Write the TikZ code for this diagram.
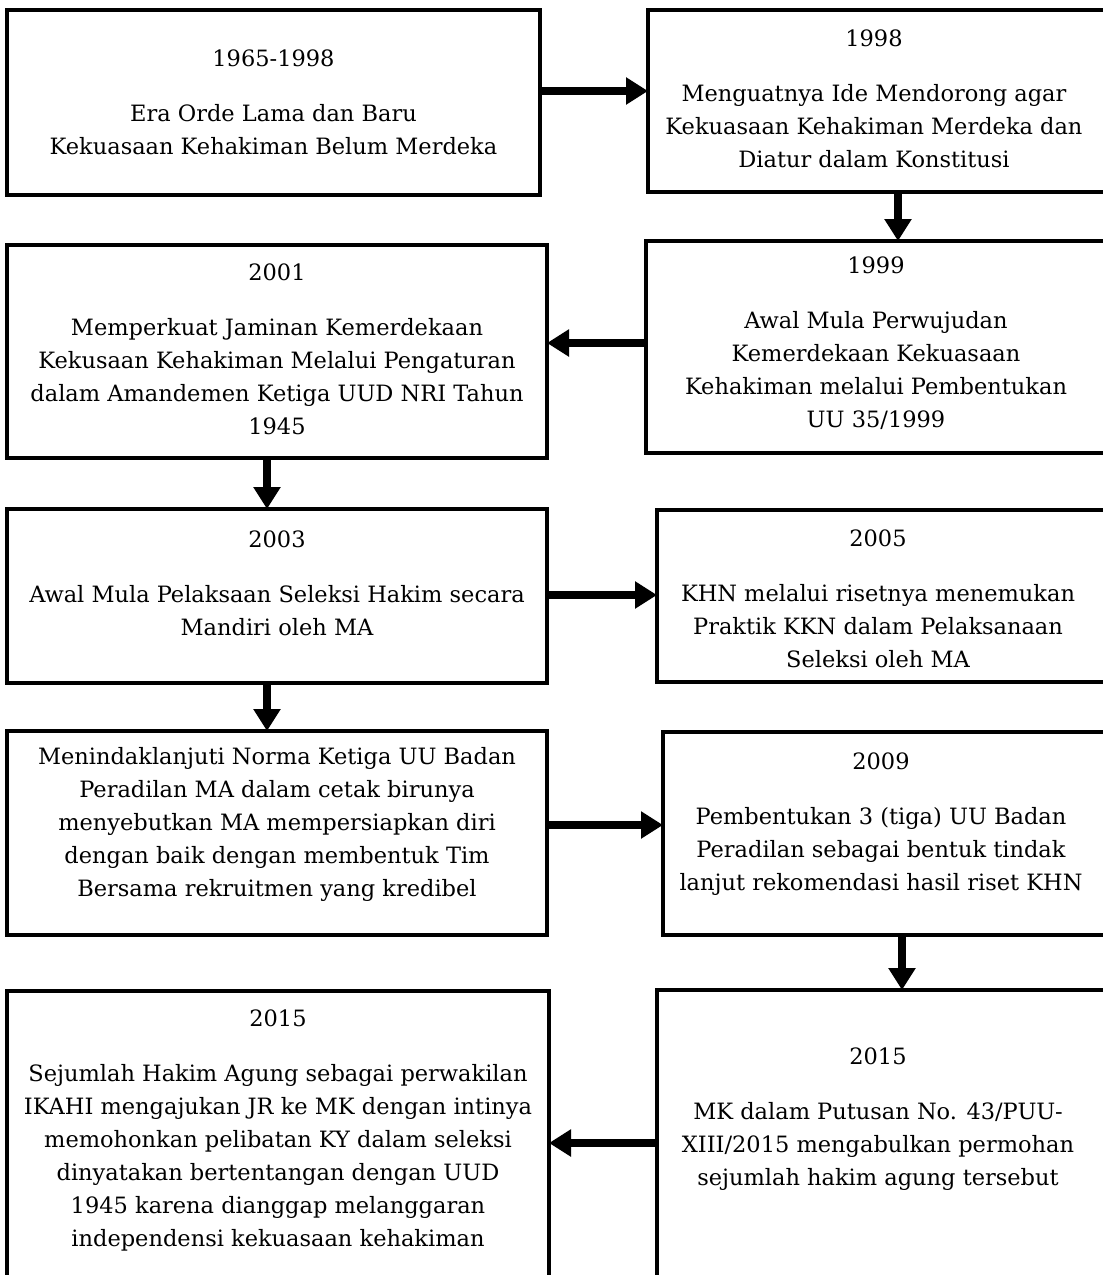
\documentclass[tikz,border=0pt]{standalone}
\usepackage{fontspec}
\setmainfont{DejaVu Serif}
\usetikzlibrary{arrows.meta}
\tikzset{
  box/.style={draw=black, line width=3.5pt, inner sep=0pt, outer sep=0pt, rectangle},
  txt/.style={align=center, inner sep=0pt, font=\fontsize{22.5pt}{33pt}\selectfont},
  arr/.style={line width=8pt, -{Triangle[width=26pt,length=22pt]}}
}
\newcommand{\yeargap}{\\[22pt]}
\begin{document}
\begin{tikzpicture}[x=1pt,y=-1pt]
\useasboundingbox (0,0) rectangle (1103,1275);
\clip (0,0) rectangle (1103,1275);
% boxes
\node[box, minimum width=533pt, minimum height=185pt] (A) at (273.5,102.5) {};
\node[box, minimum width=458pt, minimum height=182pt] (B) at (877,101) {};
\node[box, minimum width=540pt, minimum height=213pt] (C) at (277,351.5) {};
\node[box, minimum width=460pt, minimum height=212pt] (D) at (876,347) {};
\node[box, minimum width=540pt, minimum height=174pt] (E) at (277,596) {};
\node[box, minimum width=449pt, minimum height=172pt] (F) at (881.5,596) {};
\node[box, minimum width=540pt, minimum height=204pt] (G) at (277,833) {};
\node[box, minimum width=443pt, minimum height=203pt] (H) at (884.5,833.5) {};
\node[box, minimum width=542pt, minimum height=299pt] (I) at (278,1140.5) {};
\node[box, minimum width=449pt, minimum height=300pt] (J) at (881.5,1140) {};
% texts
\node[txt] (tA) at (273.5,102) {1965-1998\yeargap Era Orde Lama dan Baru\\Kekuasaan Kehakiman Belum Merdeka};
\node[txt] (tB) at (874,99) {1998\yeargap Menguatnya Ide Mendorong agar\\Kekuasaan Kehakiman Merdeka dan\\Diatur dalam Konstitusi};
\node[txt] (tC) at (277,349.5) {2001\yeargap Memperkuat Jaminan Kemerdekaan\\Kekusaan Kehakiman Melalui Pengaturan\\dalam Amandemen Ketiga UUD NRI Tahun\\1945};
\node[txt] (tD) at (876,343.5) {1999\yeargap Awal Mula Perwujudan\\Kemerdekaan Kekuasaan\\Kehakiman melalui Pembentukan\\UU 35/1999};
\node[txt] (tE) at (277,583.5) {2003\yeargap Awal Mula Pelaksaan Seleksi Hakim secara\\Mandiri oleh MA};
\node[txt] (tF) at (878,599) {2005\yeargap KHN melalui risetnya menemukan\\Praktik KKN dalam Pelaksanaan\\Seleksi oleh MA};
\node[txt] (tG) at (277,824) {Menindaklanjuti Norma Ketiga UU Badan\\Peradilan MA dalam cetak birunya\\menyebutkan MA mempersiapkan diri\\dengan baik dengan membentuk Tim\\Bersama rekruitmen yang kredibel};
\node[txt] (tH) at (881,824) {2009\yeargap Pembentukan 3 (tiga) UU Badan\\Peradilan sebagai bentuk tindak\\lanjut rekomendasi hasil riset KHN};
\node[txt] (tI) at (278,1130) {2015\yeargap Sejumlah Hakim Agung sebagai perwakilan\\IKAHI mengajukan JR ke MK dengan intinya\\memohonkan pelibatan KY dalam seleksi\\dinyatakan bertentangan dengan UUD\\1945 karena dianggap melanggaran\\independensi kekuasaan kehakiman};
\node[txt] (tJ) at (878,1119) {2015\yeargap MK dalam Putusan No. 43/PUU-\\XIII/2015 mengabulkan permohan\\sejumlah hakim agung tersebut};
% arrows
\draw[arr] ([yshift=11.5pt]A.east) -- ([yshift=10pt]B.west);
\draw[arr] ([xshift=21pt]B.south) -- ([xshift=22pt]D.north);
\draw[arr] ([yshift=4pt]D.west) -- ([yshift=8.5pt]C.east);
\draw[arr] ([xshift=-10pt]C.south) -- ([xshift=-10pt]E.north);
\draw[arr] ([yshift=1pt]E.east) -- ([yshift=1pt]F.west);
\draw[arr] ([xshift=-10pt]E.south) -- ([xshift=-10pt]G.north);
\draw[arr] ([yshift=8pt]G.east) -- ([yshift=8.5pt]H.west);
\draw[arr] ([xshift=17.5pt]H.south) -- ([xshift=20.5pt]J.north);
\draw[arr] ([yshift=-3pt]J.west) -- ([yshift=-2.5pt]I.east);
\end{tikzpicture}
\end{document}
